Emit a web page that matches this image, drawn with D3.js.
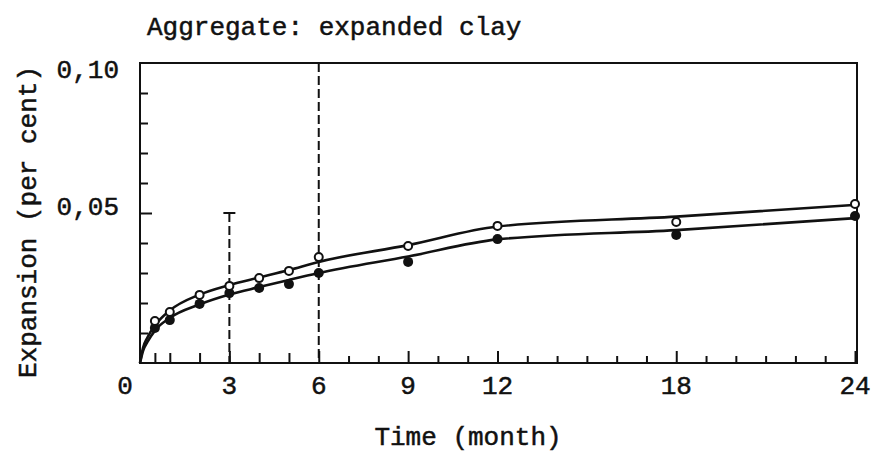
<!DOCTYPE html>
<html>
<head>
<meta charset="utf-8">
<script src="https://cdn.jsdelivr.net/npm/d3@7"></script>
<style>
  body { margin: 0; background: #fff; }
  svg { display: block; }
  text { font-family: "Liberation Mono", "DejaVu Sans Mono", monospace; fill: #111; stroke: #111; stroke-width: 0.5px; }
</style>
</head>
<body>
<svg id="chart" width="872" height="453"></svg>
<script>
// measured points (month, expansion %)
var months = [0.5, 1, 2, 3, 4, 5, 6, 9, 12, 18, 24];
var openVals = [0.014, 0.017, 0.0227, 0.0257, 0.0283, 0.0307, 0.0353, 0.039, 0.0457, 0.047, 0.053];
var filledVals = [0.0117, 0.0143, 0.0197, 0.0233, 0.025, 0.0263, 0.030, 0.0337, 0.0413, 0.0427, 0.049];

// fitted curves
var curveMonths = [0, 0.1, 0.25, 0.5, 1, 2, 3, 4, 5, 6, 9, 12, 18, 24];
var upperCurve = [0, 0.005, 0.0085, 0.0125, 0.0175, 0.0228, 0.026, 0.0285, 0.031, 0.0337, 0.0393, 0.0455, 0.0488, 0.0527];
var lowerCurve = [0, 0.004, 0.007, 0.0108, 0.015, 0.0195, 0.0228, 0.0253, 0.0277, 0.030, 0.0355, 0.0412, 0.0443, 0.0483];

// axes
var xTicks = [0.5, 1, 2, 3, 4, 5, 6, 7, 8, 9, 10, 11, 12, 13, 14, 15, 16, 17, 18, 19, 20, 21, 22, 23, 24];
var xLabels = [0, 3, 6, 9, 12, 18, 24];
var yTicks = [0.01, 0.02, 0.03, 0.04, 0.05, 0.06, 0.07, 0.08, 0.09];
var yLabels = [0.05, 0.10];

// dashed reference lines
var refMonths = [3, 6];
var refTops = [0.05, 0.10];

var svg = d3.select("#chart");
var x = d3.scaleLinear().domain([0, 24]).range([140, 855]);
var y = d3.scaleLinear().domain([0, 0.1]).range([363, 63]);
var right = 857;

// title
svg.append("text")
  .attr("x", 147).attr("y", 35)
  .style("font-size", "26px")
  .text("Aggregate: expanded clay");

// frame
svg.append("rect")
  .attr("x", x(0)).attr("y", y(0.1))
  .attr("width", right - x(0)).attr("height", y(0) - y(0.1))
  .style("fill", "none").style("stroke", "#111").style("stroke-width", 2);

// x ticks (inward)
var xAxis = svg.append("g").attr("transform", "translate(0," + y(0) + ")")
  .call(d3.axisBottom(x).tickValues(xTicks).tickSize(-8).tickFormat(""));
xAxis.select(".domain").remove();
xAxis.selectAll(".tick line")
  .attr("y2", function(d){
    if ([3, 6, 9, 12, 18, 24].indexOf(d) >= 0) return -12;
    if (d < 6) return -10;
    return -7;
  })
  .style("stroke", "#111").style("stroke-width", 2);

// x labels
svg.selectAll(".xlab").data(xLabels)
  .enter().append("text")
  .attr("class", "xlab")
  .attr("x", function(d){ return d == 0 ? x(d) - 15 : x(d); })
  .attr("y", 394)
  .style("text-anchor", "middle")
  .style("font-size", "26px")
  .text(function(d){ return d; });

// y ticks (inward)
var yAxis = svg.append("g").attr("transform", "translate(" + x(0) + ",0)")
  .call(d3.axisLeft(y).tickValues(yTicks).tickSize(-8).tickFormat(""));
yAxis.select(".domain").remove();
yAxis.selectAll(".tick line")
  .attr("x2", function(d){ return Math.abs(d - 0.05) < 1e-9 ? 12 : 8; })
  .style("stroke", "#111").style("stroke-width", 2);

// y labels
var fmt = d3.format(".2f");
svg.selectAll(".ylab").data(yLabels)
  .enter().append("text")
  .attr("class", "ylab")
  .attr("x", 119)
  .attr("y", function(d){ return y(d) + (d == 0.1 ? 15 : 2); })
  .style("text-anchor", "end")
  .style("font-size", "26px")
  .text(function(d){ return fmt(d).replace(".", ","); });

// axis titles
svg.append("text")
  .attr("x", 468).attr("y", 445)
  .style("text-anchor", "middle")
  .style("font-size", "26px")
  .text("Time (month)");

svg.append("text")
  .attr("transform", "translate(36,222) rotate(-90)")
  .style("text-anchor", "middle")
  .style("font-size", "26px")
  .text("Expansion (per cent)");

// dashed reference lines
refMonths.forEach(function(m, i){
  svg.append("line")
    .attr("x1", x(m)).attr("x2", x(m))
    .attr("y1", y(refTops[i])).attr("y2", y(0))
    .style("stroke", "#111").style("stroke-width", 2)
    .style("stroke-dasharray", "9,4");
  if (refTops[i] < 0.1) {
    svg.append("line")
      .attr("x1", x(m) - 6).attr("x2", x(m) + 6)
      .attr("y1", y(refTops[i])).attr("y2", y(refTops[i]))
      .style("stroke", "#111").style("stroke-width", 2);
  }
});

// curves
var line = d3.line()
  .x(function(d){ return x(d[0]); })
  .y(function(d){ return y(d[1]); })
  .curve(d3.curveMonotoneX);

[upperCurve, lowerCurve].forEach(function(vals){
  svg.append("path")
    .datum(curveMonths.map(function(m, i){ return [m, vals[i]]; }))
    .attr("d", line)
    .style("fill", "none").style("stroke", "#111").style("stroke-width", 2.6);
});

// points
svg.selectAll(".filled").data(months)
  .enter().append("circle")
  .attr("class", "filled")
  .attr("cx", function(d){ return x(d); })
  .attr("cy", function(d, i){ return y(filledVals[i]); })
  .attr("r", 5)
  .style("fill", "#111");

svg.selectAll(".open").data(months)
  .enter().append("circle")
  .attr("class", "open")
  .attr("cx", function(d){ return x(d); })
  .attr("cy", function(d, i){ return y(openVals[i]); })
  .attr("r", 4)
  .style("fill", "#fff").style("stroke", "#111").style("stroke-width", 2);
</script>
</body>
</html>
